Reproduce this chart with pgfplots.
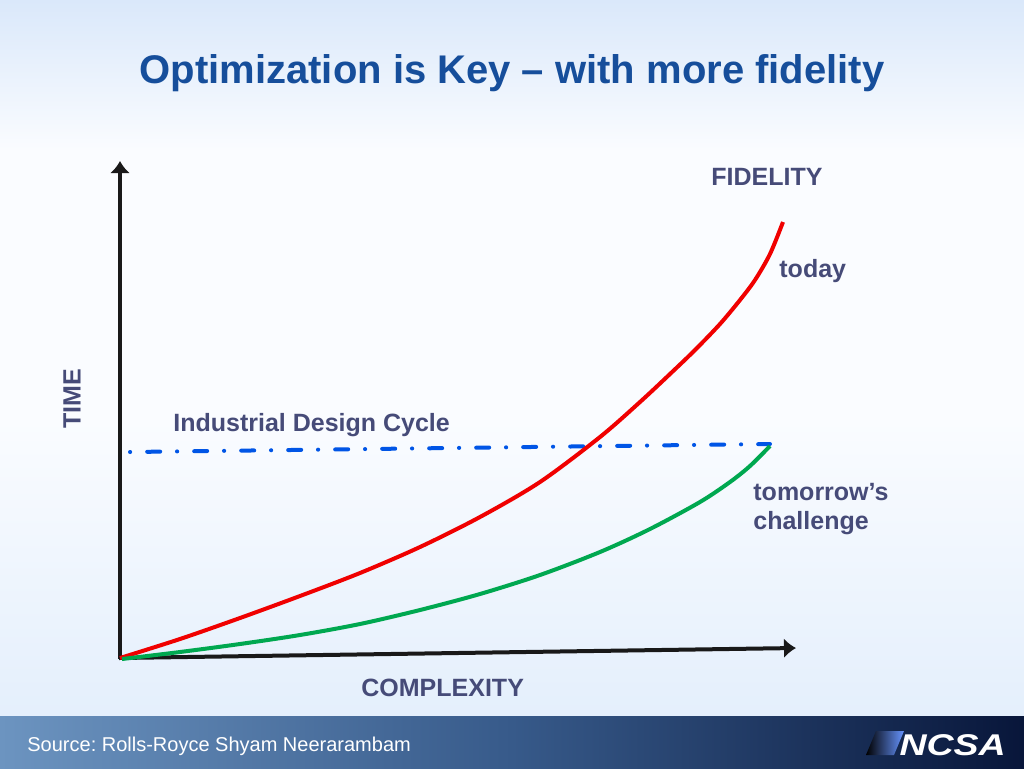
\documentclass[border=0pt]{standalone}
\usepackage{pgfplots}
\pgfplotsset{compat=1.18}
\usepackage{fontspec}
\setmainfont{Liberation Sans}
\usetikzlibrary{arrows.meta}
\frenchspacing
\definecolor{titleblue}{RGB}{22,78,155}
\definecolor{labelgrey}{RGB}{70,75,120}
\definecolor{curvered}{RGB}{240,0,0}
\definecolor{curvegreen}{RGB}{0,168,80}
\definecolor{cycleblue}{RGB}{0,85,230}
\definecolor{bgtop}{RGB}{218,232,250}
\definecolor{bgmid}{RGB}{250,252,255}
\definecolor{bgbot}{RGB}{228,239,252}
\definecolor{barleft}{RGB}{108,148,192}
\definecolor{barmid}{RGB}{55,90,138}
\definecolor{barright}{RGB}{8,22,58}

% pixel positions (y runs downward)
\pgfplotstableread{
x y
120 658
180 639
240 618
300 596
360 573
420 547
480 517
540 482
600 437
640 402
670 374
695 350
720 324
740 300
755 280
770 254
783 222
}\today

\pgfplotstableread{
x y
122 659
180 652
240 644
300 635
360 624
420 610
480 594
540 575
600 552
650 529
700 502
730 482
750 466
770 446
}\tomorrow

\begin{document}
\begin{tikzpicture}[lbl/.style={labelgrey, inner sep=0pt, anchor=base west, font=\fontsize{12.5pt}{15pt}\selectfont\bfseries}]
\begin{axis}[
    scale only axis,
    width=512pt, height=384pt,
    xmin=0, xmax=1024, ymin=0, ymax=768,
    y dir=reverse,
    axis lines=none,
    clip=false,
]
% slide background
\shade[top color=bgtop, bottom color=bgmid] (axis cs:0,0) rectangle (axis cs:1024,150);
\fill[bgmid] (axis cs:0,150) rectangle (axis cs:1024,420);
\shade[top color=bgmid, bottom color=bgbot] (axis cs:0,420) rectangle (axis cs:1024,716);
\shade[left color=barleft, right color=barright, middle color=barmid] (axis cs:0,716) rectangle (axis cs:1024,768);

% axes
\addplot[black!90, line width=2pt, -{Latex[length=6pt,width=10pt]}] coordinates {(120,659) (120,161)};
\addplot[black!90, line width=2pt, -{Latex[length=6pt,width=10pt]}] coordinates {(119,658) (796,648)};

% industrial design cycle
\addplot[cycleblue, line width=2pt, line cap=round, dash pattern=on 0.1pt off 8.5pt on 6.5pt off 8.4pt] coordinates {(130,452) (770,444)};

% curves
\addplot[curvered, line width=2pt, smooth, tension=0.5] table {\today};
\addplot[curvegreen, line width=2pt, smooth, tension=0.5] table {\tomorrow};

% texts
\node[titleblue, font=\fontsize{20pt}{24pt}\selectfont\bfseries] at (axis cs:512,73) {Optimization is Key – with more fidelity};
\node[lbl] at (axis cs:711,185) {FIDELITY};
\node[lbl] at (axis cs:779,277) {today};
\node[lbl] at (axis cs:173,431) {Industrial Design Cycle};
\node[lbl] at (axis cs:753,500) {tomorrow’s};
\node[lbl] at (axis cs:753,529) {challenge};
\node[lbl] at (axis cs:361,696) {COMPLEXITY};
\node[labelgrey, inner sep=0pt, rotate=90, font=\fontsize{12.5pt}{15pt}\selectfont\bfseries] at (axis cs:72,399) {TIME};
\node[white, inner sep=0pt, anchor=base west, font=\fontsize{10pt}{12pt}\selectfont] at (axis cs:27,751) {Source: Rolls-Royce Shyam Neerarambam};

% logo
\shade[left color=black, right color=cyan!30!blue!60!white] (axis cs:866,755) -- (axis cs:876,731) -- (axis cs:904,731) -- (axis cs:894,755) -- cycle;
\node[white, inner sep=0pt, anchor=base west, xscale=1.25, font=\fontsize{15pt}{18pt}\selectfont\bfseries\itshape] at (axis cs:899,755) {NCSA};
\end{axis}
\end{tikzpicture}
\end{document}
